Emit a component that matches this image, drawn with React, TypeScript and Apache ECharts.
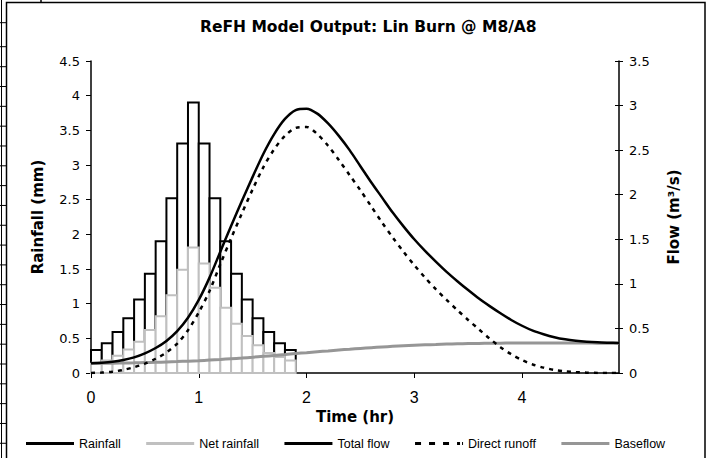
import React, { useEffect, useRef } from "react";
import * as echarts from "echarts";

const titleText = "ReFH Model Output: Lin Burn @ M8/A8";
const seriesNames = ["Rainfall", "Net rainfall", "Total flow", "Direct runoff", "Baseflow"];

// Hyetograph bars (start time of each 0.1 hr interval)
const barStep = 0.1;
const barStart = [0, 0.1, 0.2, 0.3, 0.4, 0.5, 0.6, 0.7, 0.8, 0.9, 1.0, 1.1, 1.2, 1.3, 1.4, 1.5, 1.6, 1.7, 1.8];
const rainfall = [0.33, 0.43, 0.59, 0.79, 1.06, 1.43, 1.9, 2.52, 3.31, 3.9, 3.31, 2.52, 1.9, 1.43, 1.06, 0.79, 0.59, 0.43, 0.33];
const netRainfall = [0.135, 0.18, 0.25, 0.34, 0.45, 0.62, 0.82, 1.12, 1.49, 1.81, 1.58, 1.23, 0.94, 0.71, 0.535, 0.4, 0.29, 0.23, 0.18];

// Hydrograph
const times = [
  0, 0.1, 0.2, 0.3, 0.4, 0.5, 0.6, 0.7, 0.8, 0.9,
  1.0, 1.1, 1.2, 1.3, 1.4, 1.5, 1.6, 1.7, 1.8, 1.9,
  2.0, 2.1, 2.2, 2.3, 2.4, 2.5, 2.6, 2.7, 2.8, 2.9,
  3.0, 3.1, 3.2, 3.3, 3.4, 3.5, 3.6, 3.7, 3.8, 3.9,
  4.0, 4.1, 4.2, 4.3, 4.4, 4.5, 4.6, 4.7, 4.8, 4.9,
];
const totalFlow = [
  0.11, 0.115, 0.125, 0.145, 0.175, 0.22, 0.28, 0.36, 0.47, 0.62,
  0.82, 1.07, 1.36, 1.65, 1.93, 2.2, 2.46, 2.68, 2.85, 2.95,
  2.965, 2.91, 2.8, 2.66, 2.5, 2.32, 2.14, 1.97, 1.8, 1.645,
  1.5, 1.37, 1.25, 1.135, 1.03, 0.93, 0.835, 0.75, 0.67, 0.595,
  0.53, 0.475, 0.435, 0.402, 0.378, 0.362, 0.351, 0.344, 0.34, 0.337,
];
const directRunoff = [
  0, 0.005, 0.015, 0.035, 0.065, 0.105, 0.16, 0.23, 0.33, 0.48,
  0.68, 0.92, 1.22, 1.51, 1.79, 2.06, 2.31, 2.51, 2.66, 2.75,
  2.76, 2.68, 2.55, 2.39, 2.22, 2.05, 1.87, 1.69, 1.52, 1.36,
  1.21, 1.07, 0.94, 0.82, 0.705, 0.595, 0.49, 0.385, 0.29, 0.21,
  0.145, 0.095, 0.06, 0.035, 0.02, 0.01, 0.004, 0.001, 0, 0,
];
const baseflow = [
  0.11, 0.11, 0.11, 0.112, 0.114, 0.117, 0.12, 0.124, 0.128, 0.133,
  0.138, 0.145, 0.152, 0.16, 0.168, 0.177, 0.187, 0.197, 0.207, 0.218,
  0.228, 0.238, 0.248, 0.258, 0.267, 0.276, 0.284, 0.292, 0.299, 0.305,
  0.311, 0.316, 0.32, 0.324, 0.327, 0.33, 0.332, 0.334, 0.335, 0.336,
  0.337, 0.337, 0.337, 0.337, 0.337, 0.336, 0.336, 0.335, 0.335, 0.334,
];

const xTicks = [0, 1, 2, 3, 4];

const barRender = (stroke: string) => (params: any, api: any) => {
  const top = api.coord([api.value(0), api.value(2)]);
  const bot = api.coord([api.value(1), 0]);
  return {
    type: "rect",
    shape: { x: top[0], y: top[1], width: bot[0] - top[0], height: bot[1] - top[1] },
    style: { fill: "#ffffff", stroke, lineWidth: 2 },
  };
};

const dashIcon = "path://M0,0h6v2h-6z M14,0h6v2h-6z M28,0h6v2h-6z M42,0h3v2h-3z M47,0h1v2h-1z";

export default function App() {
  const ref = useRef<HTMLDivElement>(null);
  useEffect(() => {
    if (!ref.current) return;
    const chart = echarts.init(ref.current, undefined, { renderer: "svg" });
    const sheetLines: any[] = [
      { type: "line", shape: { x1: 1.5, y1: 0, x2: 1.5, y2: 458 }, style: { stroke: "#000", lineWidth: 1 } },
      { type: "line", shape: { x1: 41, y1: 0, x2: 41, y2: 2 }, style: { stroke: "#000", lineWidth: 1.5 } },
    ];
    const ys = [22.7, 46.7];
    for (let k = 0; k < 20; k++) ys.push(66.7 + 19.82 * k);
    ys.forEach((y) =>
      sheetLines.push({ type: "line", shape: { x1: 0, y1: y, x2: 6, y2: y }, style: { stroke: "#000", lineWidth: 1 } })
    );
    const axisFont = { fontFamily: "DejaVu Sans", fontSize: 13, color: "#000" };
    const nameFont = { fontFamily: "DejaVu Sans", fontSize: 15, fontWeight: "bold" as const, color: "#000" };
    chart.setOption({
      animation: false,
      backgroundColor: "#ffffff",
      title: {
        text: titleText,
        left: 200,
        top: 19,
        padding: 0,
        textStyle: { fontFamily: "DejaVu Sans", fontSize: 15.5, fontWeight: "bold", color: "#000" },
      },
      graphic: [
        ...sheetLines,
        {
          type: "rect",
          shape: { x: 6.5, y: 2.5, width: 698.5, height: 470 },
          style: { fill: "none", stroke: "#000", lineWidth: 1.5 },
          silent: true,
        },
      ],
      legend: {
        left: 26,
        top: 437,
        padding: 0,
        itemWidth: 48,
        itemHeight: 3,
        itemGap: 25.5,
        symbolKeepAspect: false,
        textStyle: { fontFamily: "Liberation Sans, Arial", fontSize: 12.5, color: "#000" },
        data: [
          { name: seriesNames[0], icon: "rect", itemStyle: { color: "#000", borderWidth: 0 } },
          { name: seriesNames[1], icon: "rect", itemStyle: { color: "#c0c0c0", borderWidth: 0 } },
          { name: seriesNames[2], icon: "rect", itemStyle: { color: "#000", borderWidth: 0 } },
          { name: seriesNames[3], icon: dashIcon, itemStyle: { color: "#000", borderWidth: 0 } },
          { name: seriesNames[4], icon: "rect", itemStyle: { color: "#969696", borderWidth: 0 } },
        ],
      },
      grid: { left: 91, right: 89, top: 61, bottom: 85, containLabel: false },
      xAxis: {
        type: "value",
        min: 0,
        max: 4.9,
        interval: 1,
        name: "Time (hr)",
        nameLocation: "middle",
        nameGap: 34,
        nameTextStyle: nameFont,
        axisLine: { show: true, onZero: false, lineStyle: { color: "#000", width: 1.5 } },
        axisTick: { show: true, length: 5, customValues: xTicks, lineStyle: { color: "#000", width: 1 } },
        axisLabel: { customValues: xTicks, margin: 16, fontFamily: "Liberation Sans, Arial", fontSize: 16, color: "#000" },
        splitLine: { show: false },
      },
      yAxis: [
        {
          type: "value",
          position: "left",
          min: 0,
          max: 4.5,
          interval: 0.5,
          name: "Rainfall (mm)",
          nameLocation: "middle",
          nameRotate: 90,
          nameGap: 46,
          nameTextStyle: nameFont,
          axisLine: { show: true, lineStyle: { color: "#000", width: 1.5 } },
          axisTick: { show: true, length: 5, lineStyle: { color: "#000", width: 1 } },
          axisLabel: { ...axisFont, margin: 11 },
          splitLine: { show: false },
        },
        {
          type: "value",
          position: "right",
          min: 0,
          max: 3.5,
          interval: 0.5,
          name: "Flow (m³/s)",
          nameLocation: "middle",
          nameRotate: 90,
          nameGap: 47,
          nameTextStyle: nameFont,
          axisLine: { show: true, lineStyle: { color: "#000", width: 1.5 } },
          axisTick: { show: true, length: 4, lineStyle: { color: "#000", width: 1 } },
          axisLabel: { ...axisFont, margin: 10 },
          splitLine: { show: false },
        },
        {
          type: "value",
          position: "right",
          min: 0,
          max: 3.5,
          interval: 0.5,
          axisLine: { show: false },
          axisTick: { show: true, inside: true, length: 4, lineStyle: { color: "#000", width: 1 } },
          axisLabel: { show: false },
          splitLine: { show: false },
        },
      ],
      series: [
        {
          name: seriesNames[0],
          type: "custom",
          yAxisIndex: 0,
          renderItem: barRender("#000000"),
          encode: { x: [0, 1], y: 2 },
          data: barStart.map((t, i) => [t, t + barStep, rainfall[i]]),
        },
        {
          name: seriesNames[1],
          type: "custom",
          yAxisIndex: 0,
          renderItem: barRender("#c0c0c0"),
          encode: { x: [0, 1], y: 2 },
          data: barStart.map((t, i) => [t, t + barStep, netRainfall[i]]),
        },
        {
          name: seriesNames[4],
          type: "line",
          yAxisIndex: 1,
          smooth: 0.3,
          showSymbol: false,
          lineStyle: { color: "#969696", width: 3 },
          itemStyle: { color: "#969696" },
          data: times.map((t, i) => [t, baseflow[i]]),
        },
        {
          name: seriesNames[3],
          type: "line",
          yAxisIndex: 1,
          smooth: 0.3,
          showSymbol: false,
          lineStyle: { color: "#000", width: 2.5, type: [4, 5] },
          itemStyle: { color: "#000" },
          data: times.map((t, i) => [t, directRunoff[i]]),
        },
        {
          name: seriesNames[2],
          type: "line",
          yAxisIndex: 1,
          smooth: 0.3,
          showSymbol: false,
          lineStyle: { color: "#000", width: 2.5 },
          itemStyle: { color: "#000" },
          data: times.map((t, i) => [t, totalFlow[i]]),
        },
      ],
    });
    return () => chart.dispose();
  }, []);
  return (
    <div
      ref={ref}
      style={{ position: "fixed", left: 0, top: 0, width: 708, height: 458, background: "#fff" }}
    />
  );
}
